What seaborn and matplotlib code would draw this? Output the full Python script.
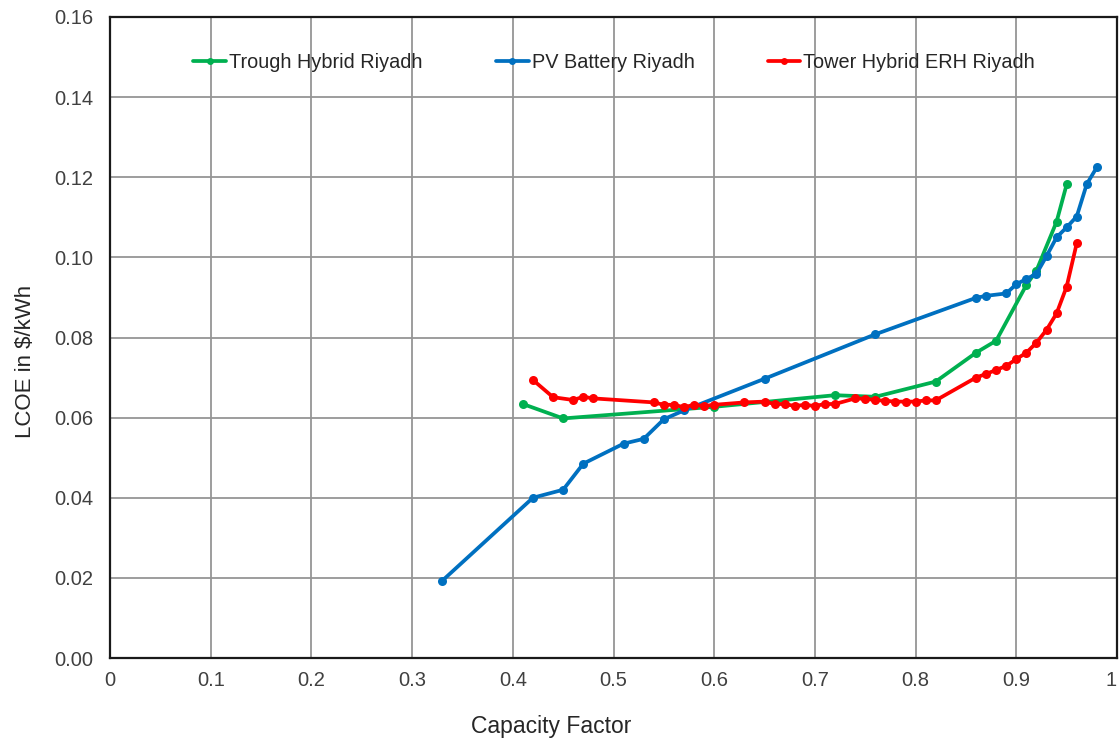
import numpy as np
import pandas as pd
import matplotlib
matplotlib.use("Agg")
import matplotlib.pyplot as plt
import seaborn as sns

# ---- data ----
trough_x = [0.41, 0.45, 0.60, 0.72, 0.76, 0.82, 0.86, 0.88, 0.91, 0.92, 0.94, 0.95]
trough_y = [0.0634, 0.0598, 0.0627, 0.0656, 0.0652, 0.0690, 0.0762, 0.0792, 0.0931, 0.0967, 0.1089, 0.1182]

pv_x = [0.33, 0.42, 0.45, 0.47, 0.51, 0.53, 0.55, 0.57, 0.65, 0.76, 0.86, 0.87, 0.89,
        0.90, 0.91, 0.92, 0.93, 0.94, 0.95, 0.96, 0.97, 0.98]
pv_y = [0.0193, 0.0400, 0.0420, 0.0485, 0.0535, 0.0547, 0.0596, 0.0618, 0.0697, 0.0808,
        0.0899, 0.0904, 0.0910, 0.0933, 0.0946, 0.0959, 0.1003, 0.1050, 0.1075, 0.1102,
        0.1183, 0.1225]

tower_x = [0.42, 0.44, 0.46, 0.47, 0.48, 0.54, 0.55, 0.56, 0.57, 0.58, 0.59, 0.60,
           0.63, 0.65, 0.66, 0.67, 0.68, 0.69, 0.70, 0.71, 0.72, 0.74, 0.75, 0.76,
           0.77, 0.78, 0.79, 0.80, 0.81, 0.82, 0.86, 0.87, 0.88, 0.89, 0.90, 0.91,
           0.92, 0.93, 0.94, 0.95, 0.96]
tower_y = [0.0694, 0.0651, 0.0644, 0.0652, 0.0648, 0.0638, 0.0632, 0.0632, 0.0626, 0.0632,
           0.0629, 0.0632, 0.0638, 0.0640, 0.0634, 0.0634, 0.0629, 0.0632, 0.0629, 0.0634,
           0.0634, 0.0648, 0.0647, 0.0644, 0.0642, 0.0640, 0.0640, 0.0640, 0.0643, 0.0643,
           0.0700, 0.0709, 0.0719, 0.0729, 0.0746, 0.0762, 0.0787, 0.0819, 0.0860, 0.0927,
           0.1035]

series_names = ["Trough Hybrid Riyadh", "PV Battery Riyadh", "Tower Hybrid ERH Riyadh"]
colors = ["#00B050", "#0070C0", "#FF0000"]

x_ticks = [0, 0.1, 0.2, 0.3, 0.4, 0.5, 0.6, 0.7, 0.8, 0.9, 1.0]
x_tick_labels = ["0", "0.1", "0.2", "0.3", "0.4", "0.5", "0.6", "0.7", "0.8", "0.9", "1"]
y_ticks = [0.00, 0.02, 0.04, 0.06, 0.08, 0.10, 0.12, 0.14, 0.16]

df = pd.concat([
    pd.DataFrame({"cf": trough_x, "lcoe": trough_y, "series": series_names[0]}),
    pd.DataFrame({"cf": pv_x, "lcoe": pv_y, "series": series_names[1]}),
    pd.DataFrame({"cf": tower_x, "lcoe": tower_y, "series": series_names[2]}),
], ignore_index=True)

sns.set_style("white")
plt.rcParams["font.family"] = ["Liberation Sans", "DejaVu Sans"]

fig = plt.figure(figsize=(11.2, 7.4), dpi=100)
ax = fig.add_axes([110 / 1120, 1 - 658 / 740, 1007 / 1120, 641 / 740])

sns.lineplot(data=df, x="cf", y="lcoe", hue="series", hue_order=series_names,
             palette=colors, sort=False, marker="o", markersize=6.5,
             markeredgewidth=0, linewidth=2.7, ax=ax, legend=True, zorder=3)

ax.set_xlim(0, 1)
ax.set_ylim(0, 0.16)
ax.set_xticks(x_ticks)
ax.set_xticklabels(x_tick_labels)
ax.set_yticks(y_ticks)
ax.set_yticklabels([f"{v:.2f}" for v in y_ticks])
ax.tick_params(axis="both", labelsize=14.5, colors="#404040", length=0)
ax.tick_params(axis="x", pad=9)
ax.tick_params(axis="y", pad=12)
ax.get_xticklabels()[-1].set_horizontalalignment("right")
ax.grid(True, color="#959595", linewidth=1.3)
ax.set_axisbelow(True)
for s in ax.spines.values():
    s.set_color("#1a1a1a")
    s.set_linewidth(1.6)
    s.set_visible(True)

ax.set_xlabel("Capacity Factor", fontsize=16.5, color="#262626")
ax.set_ylabel("LCOE in $/kWh", fontsize=16, color="#262626")
ax.xaxis.set_label_coords((551 - 110) / 1007, (658 - 727) / 641)
ax.yaxis.set_label_coords((26 - 110) / 1007, (658 - 361) / 641)
ax.xaxis.label.set_verticalalignment("center")
ax.yaxis.label.set_verticalalignment("center")

handles, labels = ax.get_legend_handles_labels()
for h in handles:
    h.set_markersize(5)
leg = ax.legend(handles, labels, loc="center left", bbox_to_anchor=(0.075, 0.929),
                ncol=3, frameon=False, fontsize=14.3, handlelength=1.66,
                handletextpad=0.15, columnspacing=3.67, borderaxespad=0)
for t in leg.get_texts():
    t.set_color("#262626")

fig.savefig("out.png", dpi=100)
